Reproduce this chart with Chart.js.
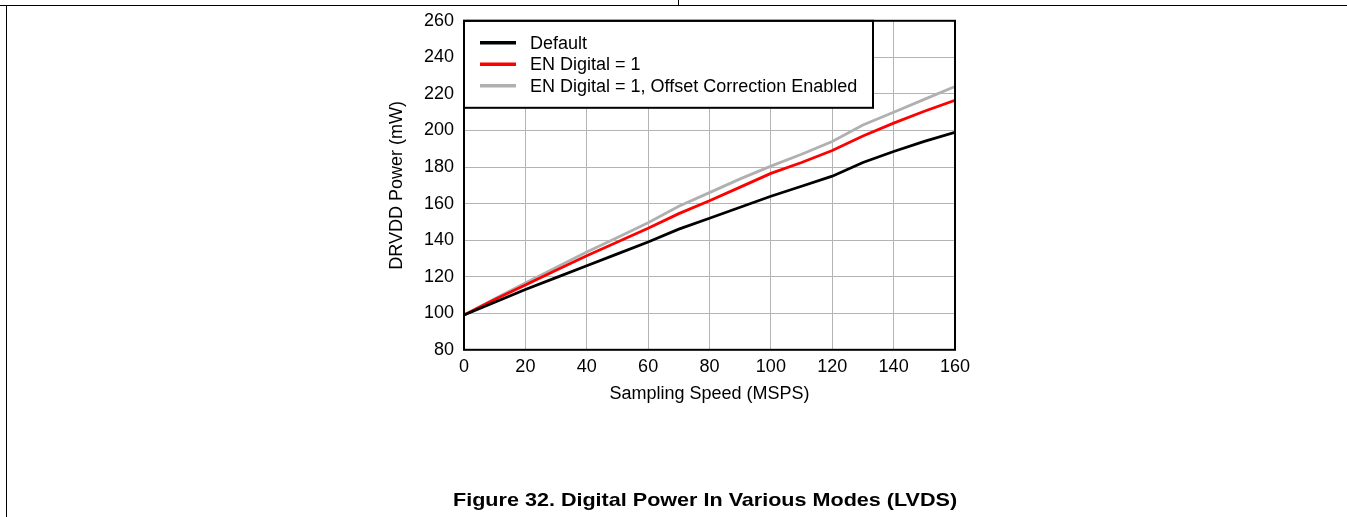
<!DOCTYPE html>
<html>
<head>
<meta charset="utf-8">
<script src="https://cdn.jsdelivr.net/npm/chart.js@4.4.0/dist/chart.umd.min.js"></script>
<style>
	body { margin: 0; background: #fff; width: 1347px; height: 517px; overflow: hidden; position: relative; }
	#wrap { position: absolute; left: 0; top: 0; width: 1347px; height: 517px; }
	.rule { position: absolute; background: #000; }
	#caption { position: absolute; left: 0; width: 1410px; top: 489px; text-align: center;
		font: bold 19px "Liberation Sans", Arial, sans-serif; color: #000; }
	#caption span { display: inline-block; transform: scaleX(1.135); }
</style>
</head>
<body>
<div class="rule" style="left:0;top:5px;width:1347px;height:1px"></div>
<div class="rule" style="left:678px;top:0;width:1px;height:5px"></div>
<div class="rule" style="left:6px;top:5px;width:1px;height:512px"></div>
<div id="wrap"><canvas id="myChart" width="1347" height="517"></canvas></div>
<div id="caption"><span>Figure 32. Digital Power In Various Modes (LVDS)</span></div>
<script>
const speeds = [0, 10, 20, 30, 40, 50, 60, 70, 80, 90, 100, 110, 120, 130, 140, 150, 160]
const defaultPower = [99, 106, 113, 119.5, 126, 132.5, 139, 146, 152, 158, 164, 169.5, 175, 182.5, 188.5, 194, 199]
const enDigital = [99, 107.5, 115.5, 123.5, 131.5, 139, 146.5, 154.5, 161.5, 169, 176.5, 182.5, 189, 197, 204, 210.5, 216.5]
const enDigitalOffset = [99, 108, 116.5, 125, 133.5, 141.5, 149.5, 158.5, 166, 173.5, 180.5, 187, 194, 203, 210, 217, 224]
const seriesNames = ['Default', 'EN Digital = 1', 'EN Digital = 1, Offset Correction Enabled']

const FONT = '"Liberation Sans", Arial, sans-serif'
Chart.defaults.font.family = FONT
Chart.defaults.font.size = 18
Chart.defaults.color = '#000'

function pts(ys) {
	return speeds.map((x, i) => ({ x: x, y: ys[i] }))
}

// plot frame + legend box drawn over the data, like the original
const framePlugin = {
	id: 'frame',
	afterDatasetsDraw(chart) {
		const c = chart.ctx
		const a = chart.chartArea
		c.save()
		// legend box in the top left corner of the plot
		const bx = a.left, by = a.top, bw = 409, bh = 87
		c.fillStyle = '#fff'
		c.fillRect(bx, by, bw, bh)
		c.lineWidth = 2
		c.strokeStyle = '#000'
		c.strokeRect(bx, by, bw, bh)
		c.font = '18px ' + FONT
		c.textBaseline = 'middle'
		chart.data.datasets.forEach((ds, i) => {
			const y = by + 22 + i * 21.5
			c.strokeStyle = ds.borderColor
			c.lineWidth = 3.5
			c.beginPath()
			c.moveTo(bx + 16, y)
			c.lineTo(bx + 52, y)
			c.stroke()
			c.fillStyle = '#000'
			c.fillText(ds.label, bx + 66, y + 1)
		})
		// plot border
		c.strokeStyle = '#000'
		c.lineWidth = 2
		c.strokeRect(a.left, a.top, a.right - a.left, a.bottom - a.top)
		c.restore()
	}
}

const ctx = document.getElementById('myChart')
var chart = new Chart(ctx, {
	type: 'line',
	data: {
		datasets: [{
			label: seriesNames[0],
			data: pts(defaultPower),
			borderColor: '#000000',
		}, {
			label: seriesNames[1],
			data: pts(enDigital),
			borderColor: '#ff0000',
		}, {
			label: seriesNames[2],
			data: pts(enDigitalOffset),
			borderColor: '#b0b0b0',
		}]
	},
	options: {
		responsive: false,
		animation: false,
		layout: { padding: { left: 380, right: 392, top: 18, bottom: 112 } },
		elements: {
			line: { borderWidth: 2.8, tension: 0, fill: false },
			point: { radius: 0 }
		},
		plugins: {
			legend: { display: false },
			tooltip: { enabled: false }
		},
		scales: {
			x: {
				type: 'linear',
				min: 0,
				max: 160,
				ticks: { stepSize: 20, padding: 6, color: '#000' },
				grid: { color: '#b4b4b4', lineWidth: 1, drawTicks: false },
				border: { display: false },
				title: { display: true, text: 'Sampling Speed (MSPS)', color: '#000', padding: { top: 0, bottom: 0 } }
			},
			y: {
				min: 80,
				max: 260,
				ticks: { stepSize: 20, padding: 10, color: '#000' },
				grid: { color: '#b4b4b4', lineWidth: 1, drawTicks: false },
				border: { display: false },
				title: { display: true, text: 'DRVDD Power (mW)', color: '#000', padding: { top: 6, bottom: 0 } },
				afterFit(scale) { scale.width = 84 }
			}
		}
	},
	plugins: [framePlugin]
})
</script>
</body>
</html>
